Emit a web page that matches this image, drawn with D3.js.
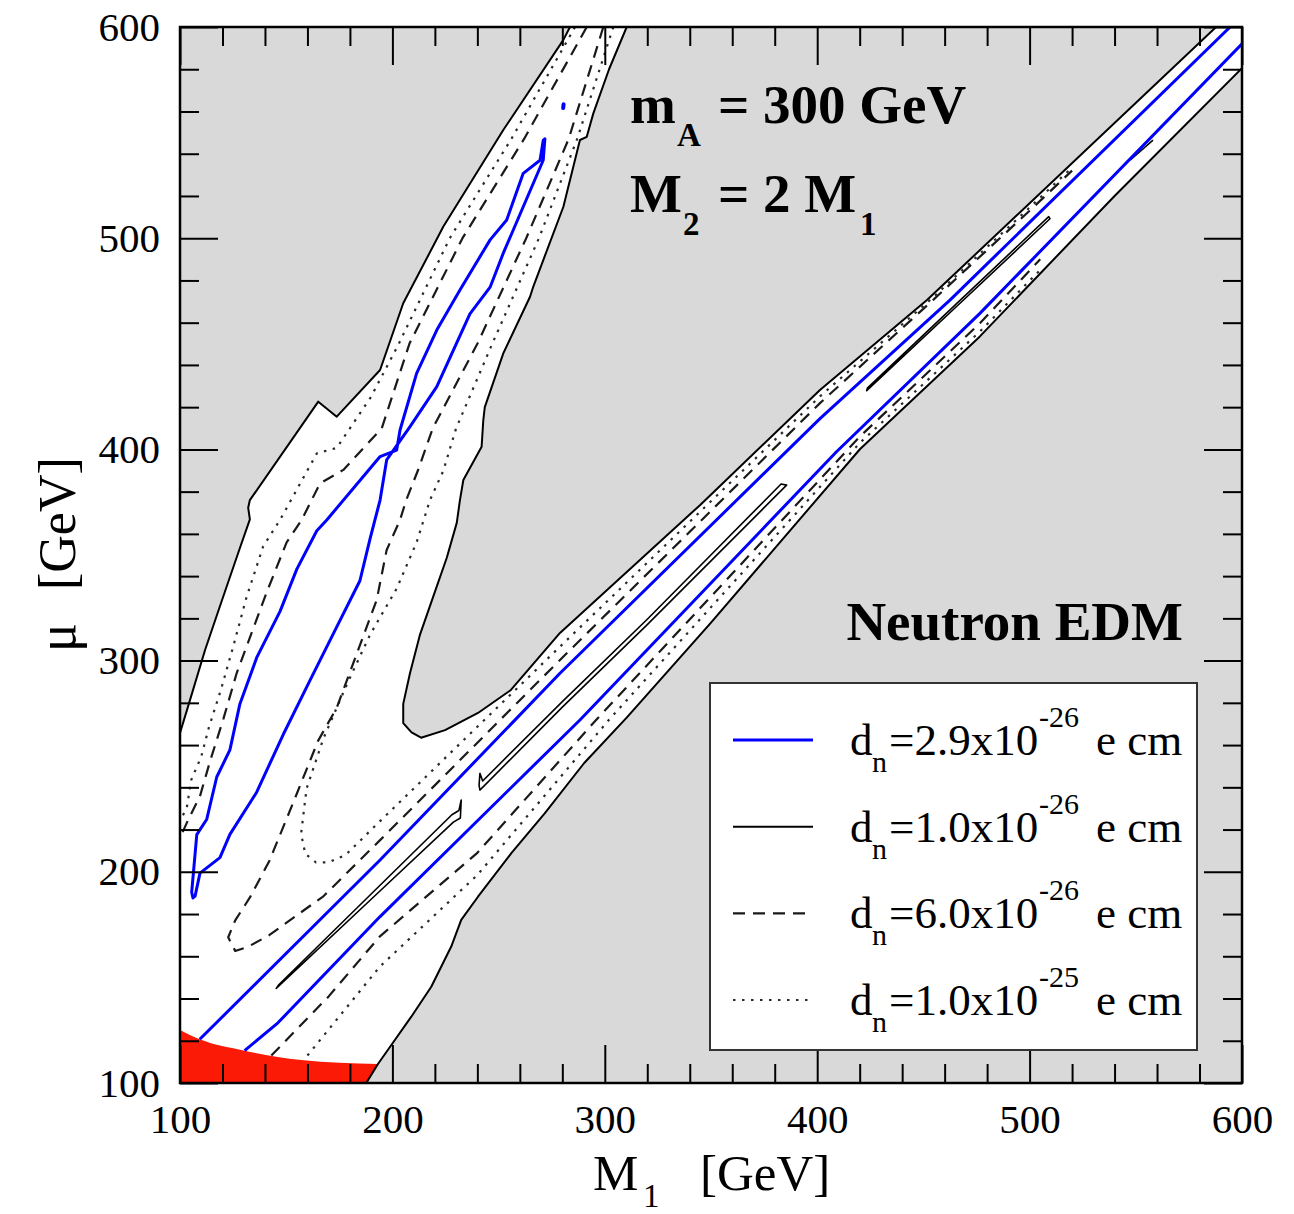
<!DOCTYPE html>
<html>
<head>
<meta charset="utf-8">
<script src="https://cdn.jsdelivr.net/npm/d3@7"></script>
<style>
  body { margin: 0; background: #fff; }
  text { font-family: "Liberation Serif", "DejaVu Serif", serif; }
</style>
</head>
<body>
<div id="chart"></div>
<script>
// axis ticks (GeV)
const majorTicks = [100, 200, 300, 400, 500, 600];
const minorTicks = [120, 140, 160, 180, 220, 240, 260, 280, 320, 340, 360, 380,
  420, 440, 460, 480, 520, 540, 560, 580];

// contours, [M1, mu] in GeV
const outerLeft = [[100, 265.7], [104.7, 281.3], [111.8, 305], [119.8, 328.7], [128.2, 353.3],
  [132.9, 366.9], [132.1, 372.4], [132.9, 376], [165.1, 422.6], [173.8, 415.5], [194.2, 437.6],
  [205.1, 469.2], [224, 505.5], [252.2, 551.2], [280.5, 593.9], [283.6, 600]];
const outerTongue = [[310.3, 600], [302, 580], [294.6, 559.1], [291.5, 548], [288.3, 546.5],
  [280.5, 514.9], [266.3, 477], [264.8, 472.3], [252.2, 445.5], [243.5, 420], [242.8, 413.9],
  [242, 401.3], [233.4, 385.5], [231.8, 376], [230.3, 365.2], [225.6, 348.7], [219.3, 330.5],
  [213, 312.3], [208.3, 294.1], [205.1, 279.5], [205.1, 270.4], [209, 266], [213.5, 263.5],
  [224.8, 267.1], [240.3, 275.2], [255.8, 286.1], [278.9, 313.1], [344.8, 373.6],
  [401.3, 428.1], [451.7, 470.7], [587.8, 600]];
const outerLower = [[600, 580.5], [540, 520], [476.6, 453.5], [420.2, 400.2], [350, 318],
  [310.3, 273], [290.2, 251.4], [271.7, 227.7], [256, 208.8], [240.3, 188.2], [232.4, 177.2],
  [227.7, 164.6], [218.3, 145.6], [208.9, 131.4], [199.5, 118], [193.2, 109], [187.7, 100]];
const redTop = [[100, 125.1], [109.3, 120.7], [130.4, 115.3], [157.1, 110.9], [193.2, 109]];

// dn = 2.9e-26
const blueArm = [[271.8, 547.1], [271, 546.3], [269.5, 536.9], [261.6, 530.7], [253.8, 508.6],
  [246, 499.2], [231.8, 475.5], [220.9, 456.5], [211.4, 436], [203.6, 409.2], [202, 399.7],
  [194.2, 396.6], [169.1, 366.6], [164.4, 361.5], [155, 343.3], [147.1, 323.3], [136.1, 301.4],
  [128.2, 279.5], [123.5, 257.7], [117.3, 244.9], [112.6, 224.9], [107.9, 217.6], [105.5, 190.3],
  [106.1, 187.6], [107.1, 188.5], [109.4, 199.4], [118.8, 206.7], [123.5, 217.7], [136.1, 237.7],
  [148.6, 265], [161.2, 290.6], [173.8, 316], [184.7, 337.8], [189.5, 357.8], [194.2, 376],
  [197.3, 395], [208.3, 410.8], [220.9, 429.7], [236.5, 464.2], [246, 476.8], [252.2, 492.9],
  [261.6, 514.9], [271, 536.9], [271.8, 547.1]];
const blueDot = [[280.4, 561.6], [280.6, 563.4]];
const blueUpper = [[109.3, 120.7], [194.2, 205.6], [278.9, 294], [401.3, 414.6], [462.5, 470.7],
  [594.4, 600]];
const blueLower = [[130.4, 115.3], [146.1, 128.5], [194.2, 178.8], [288.3, 271.9], [409.2, 399],
  [476.6, 464.4], [600, 592]];

// dn = 1.0e-26 (thin closed slivers)
const sliverLow = [[145.3, 144.8], [190, 187], [228.7, 223.5], [232, 225.5], [232.4, 234],
  [231.3, 229], [228, 227], [190, 189.5], [146.5, 146.5]];
const sliverMid = [[241.2, 238.7], [280, 278], [320, 317], [385.6, 383.1], [383, 383.6],
  [320, 319.6], [280, 280.6], [242.5, 243], [241.2, 246.6], [240.8, 241]];
const sliverHigh = [[423.3, 427.8], [466, 468], [509.6, 509.2], [509, 510.2], [466, 469.4],
  [423.6, 429]];
const sliverTiny = [[547.3, 536.9], [558.1, 546.4]];

// dn = 6.0e-26
const dashLeft = [[291.5, 600], [262, 547], [233, 500], [208, 450], [195, 410], [176.9, 390.3],
  [165.9, 383.9], [157.3, 366.6], [150.2, 356], [140.8, 332.3], [131.4, 306.8], [126.7, 294.1],
  [120.4, 272.3], [114.1, 252.2], [109.4, 235.8], [103.8, 224.5], [100, 216]];
const dashRight = [[299.3, 600], [283, 547], [263, 500], [240, 450], [219, 410], [212, 390],
  [206.5, 376], [203.6, 366.6], [197.3, 352.4], [192.6, 328.7], [183.2, 303.2], [173.8, 277.7],
  [165, 262], [153, 232], [142, 205], [133, 188], [126, 177], [122.7, 169], [126, 162.5],
  [132, 164.5], [142, 170], [155, 179.4], [167.5, 188.4], [194.2, 215], [278.9, 300.3],
  [401.3, 421.9], [454.5, 470.7], [500, 513], [520, 532]];
const dashLower = [[143, 113], [170, 141], [194, 169.3], [240, 209], [296, 272], [420, 406],
  [476.6, 459.7], [505, 490]];

// dn = 1.0e-25
const dotLeft = [[286, 600], [256, 547], [227, 500], [203, 450], [190, 425], [173.8, 400.7],
  [164.4, 398.1], [147.1, 366.6], [139.2, 354.2], [131.4, 330.3], [125.1, 306.8], [119.5, 287],
  [113.5, 268], [110, 254.5], [105.3, 243.5], [103.2, 230.4], [100, 224]];
const dotRight = [[304, 600], [287, 547], [269, 500], [247, 450], [230, 410], [224, 390],
  [217.7, 376], [211.4, 356], [202, 334.1], [189.5, 312.3], [178.5, 288.6], [167.5, 263.1],
  [159.6, 239.4], [157, 218], [159, 208.5], [164, 204.5], [170, 204.5], [178, 208],
  [194.2, 224], [278.9, 306.6], [401.3, 425.1], [454, 471.5], [500, 514.5], [520, 533.5]];
const dotLower = [[160, 113], [194, 155], [240, 198.5], [302, 272], [420, 403], [476.6, 455.8],
  [505, 485]];

// legend
const legendKinds = ['blue', 'solid', 'dash', 'dot'];
const legendMant = ['2.9', '1.0', '6.0', '1.0'];
const legendExp = ['-26', '-26', '-26', '-25'];

const styles = {
  blue: { stroke: '#0000ff', width: 3, dash: null },
  solid: { stroke: '#000', width: 2, dash: null },
  sliver: { stroke: '#000', width: 1.6, dash: null },
  outer: { stroke: '#000', width: 2, dash: null },
  dash: { stroke: '#1a1a1a', width: 2.2, dash: '12,8' },
  dot: { stroke: '#2a2a2a', width: 2.2, dash: '2.5,6.5' }
};

const W = 1294, H = 1214;
const x = d3.scaleLinear().domain([100, 600]).range([180, 1242]);
const y = d3.scaleLinear().domain([100, 600]).range([1083, 27]);
const line = d3.line().x(d => x(d[0])).y(d => y(d[1]));

const svg = d3.select('#chart').append('svg')
  .attr('width', W).attr('height', H);

svg.append('defs').append('clipPath').attr('id', 'plot')
  .append('rect').attr('x', 180).attr('y', 27).attr('width', 1062).attr('height', 1056);

const plot = svg.append('g').attr('clip-path', 'url(#plot)');

plot.append('rect').attr('x', 180).attr('y', 27).attr('width', 1062).attr('height', 1056)
  .attr('fill', '#d9d9d9');

// allowed (white) region
const region = [[100, 100]].concat(outerLeft, outerTongue, [[600, 600]], outerLower);
plot.append('path').attr('d', line(region) + 'Z').attr('fill', '#fff');

// red corner
plot.append('path')
  .attr('d', d3.line().x(d => x(d[0])).y(d => y(d[1])).curve(d3.curveMonotoneX)(redTop)
    + `L${x(187.7)},${y(100)}L${x(100)},${y(100)}Z`)
  .attr('fill', '#fa1a06');

const contours = [
  { pts: outerLeft, kind: 'outer' }, { pts: outerTongue, kind: 'outer' },
  { pts: outerLower, kind: 'outer' },
  { pts: dotLeft, kind: 'dot' }, { pts: dotRight, kind: 'dot' }, { pts: dotLower, kind: 'dot' },
  { pts: dashLeft, kind: 'dash' }, { pts: dashRight, kind: 'dash' }, { pts: dashLower, kind: 'dash' },
  { pts: sliverLow, kind: 'sliver', closed: true }, { pts: sliverMid, kind: 'sliver', closed: true },
  { pts: sliverHigh, kind: 'sliver', closed: true }, { pts: sliverTiny, kind: 'sliver' },
  { pts: blueArm, kind: 'blue', closed: true }, { pts: blueUpper, kind: 'blue' },
  { pts: blueLower, kind: 'blue' }
];

plot.selectAll('.contour').data(contours).enter().append('path')
  .attr('class', 'contour')
  .attr('d', d => line(d.pts) + (d.closed ? 'Z' : ''))
  .attr('fill', 'none')
  .attr('stroke', d => styles[d.kind].stroke)
  .attr('stroke-width', d => styles[d.kind].width)
  .attr('stroke-dasharray', d => styles[d.kind].dash)
  .attr('stroke-linejoin', 'round');

plot.append('path').attr('d', line(blueDot)).attr('stroke', '#0000ff')
  .attr('stroke-width', 4).attr('stroke-linecap', 'round');

// axes, ticks inward on all sides
function styleAxis(g) {
  g.select('.domain').remove();
  g.selectAll('.tick line').attr('stroke', '#000').attr('stroke-width', 2);
  g.selectAll('.tick text').attr('font-size', 41).attr('fill', '#000')
    .style('font-family', '"Liberation Serif", serif');
}
const axes = [
  [d3.axisBottom, 'translate(0,1083)', x, true],
  [d3.axisTop, 'translate(0,27)', x, false],
  [d3.axisLeft, 'translate(180,0)', y, true],
  [d3.axisRight, 'translate(1242,0)', y, false]
];
axes.forEach(([axisFn, tr, sc, labels]) => {
  svg.append('g').attr('transform', tr)
    .call(axisFn(sc).tickValues(minorTicks).tickSize(-19).tickSizeOuter(0).tickFormat(''))
    .call(styleAxis);
  const major = axisFn(sc).tickValues(majorTicks).tickSize(-38).tickSizeOuter(0)
    .tickPadding(axisFn === d3.axisBottom ? 21 : 20);
  if (!labels) major.tickFormat('');
  svg.append('g').attr('transform', tr).call(major).call(styleAxis);
});

svg.append('rect').attr('x', 180).attr('y', 27).attr('width', 1062).attr('height', 1056)
  .attr('fill', 'none').attr('stroke', '#000').attr('stroke-width', 2.5);

// axis titles
const xt = svg.append('text').attr('font-size', 51).attr('fill', '#000');
xt.append('tspan').attr('x', 593).attr('y', 1190).text('M');
xt.append('tspan').attr('x', 643).attr('y', 1207).attr('font-size', 33).text('1');
xt.append('tspan').attr('x', 700).attr('y', 1190).text('[GeV]');

svg.append('text').attr('font-size', 54).attr('fill', '#000')
  .attr('transform', 'translate(75,652) rotate(-90)').text('\u03bc');
svg.append('text').attr('font-size', 52).attr('fill', '#000')
  .attr('transform', 'translate(75,590) rotate(-90)').text('[GeV]');

// annotations
const t1 = svg.append('text').attr('font-size', 55).attr('font-weight', 'bold').attr('fill', '#000');
t1.append('tspan').attr('x', 630).attr('y', 123).text('m');
t1.append('tspan').attr('x', 677).attr('y', 146).attr('font-size', 33).text('A');
t1.append('tspan').attr('x', 718).attr('y', 123).text('= 300 GeV');

const t2 = svg.append('text').attr('font-size', 55).attr('font-weight', 'bold').attr('fill', '#000');
t2.append('tspan').attr('x', 630).attr('y', 212).text('M');
t2.append('tspan').attr('x', 683).attr('y', 235).attr('font-size', 33).text('2');
t2.append('tspan').attr('x', 718).attr('y', 212).text('= 2 M');
t2.append('tspan').attr('x', 860).attr('y', 235).attr('font-size', 33).text('1');

svg.append('text').attr('x', 1183).attr('y', 640).attr('text-anchor', 'end')
  .attr('font-size', 55).attr('font-weight', 'bold').attr('fill', '#000').text('Neutron EDM');

// legend
const leg = svg.append('g');
leg.append('rect').attr('x', 710).attr('y', 683).attr('width', 487).attr('height', 367)
  .attr('fill', '#fff').attr('stroke', '#333').attr('stroke-width', 2);
const rowY = d3.scalePoint().domain(d3.range(legendKinds.length)).range([740, 1000]);
legendKinds.forEach((k, i) => {
  const cy = rowY(i);
  const s = styles[k];
  leg.append('line').attr('x1', 733).attr('x2', 813).attr('y1', cy).attr('y2', cy)
    .attr('stroke', s.stroke).attr('stroke-width', s.width).attr('stroke-dasharray', s.dash);
  const t = leg.append('text').attr('font-size', 45).attr('fill', '#000');
  t.append('tspan').attr('x', 850).attr('y', cy + 15).text('d');
  t.append('tspan').attr('x', 872).attr('y', cy + 32).attr('font-size', 30).text('n');
  t.append('tspan').attr('x', 889).attr('y', cy + 15).text('=' + legendMant[i] + 'x10');
  t.append('tspan').attr('x', 1039).attr('y', cy - 13).attr('font-size', 30).text(legendExp[i]);
  t.append('tspan').attr('x', 1096).attr('y', cy + 15).text('e cm');
});
</script>
</body>
</html>
